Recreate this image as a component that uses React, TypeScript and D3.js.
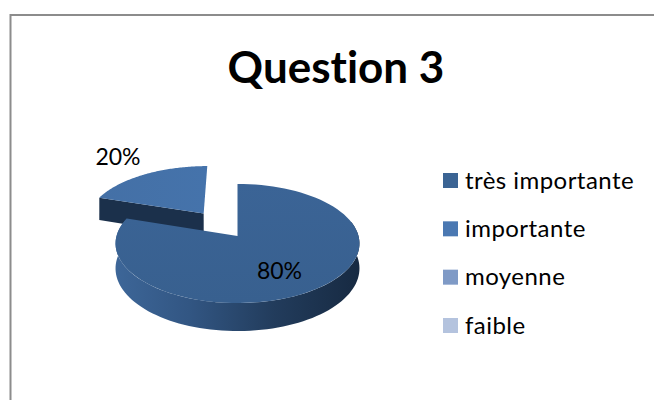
import React from "react";
import * as d3 from "d3";

const categories = ["très importante", "importante", "moyenne", "faible"];
const values = [80, 20, 0, 0];
const percentLabels = ["80%", "20%"];
const legendColors = ["#3b6494", "#4a78b2", "#7f9ac6", "#b4c3de"];
const title = "Question 3";

const W = 654, H = 400;
const cx = 237.5, cy = 236;
const rx = 121, ry = 58.6, persp = 0.126, depth = 24.5;
const explode = 0.5;

const pie = d3.pie<number>().sort(null).startAngle(0).endAngle(2 * Math.PI);
const arcs = pie(values);
const legendY = d3.scalePoint<string>().domain(categories).range([180.5, 325.5]);
const line = d3.line<[number, number]>().curve(d3.curveLinear);

function project(u: number, v: number, drop = 0): [number, number] {
  const s = 1 / (1 - persp * v);
  return [cx + rx * u * s, cy + ry * v * s + (drop ? depth * s : 0)];
}
function polar(a: number, r = 1, ou = 0, ov = 0) {
  return { u: ou + r * Math.sin(a), v: ov - r * Math.cos(a) };
}
function samples(a0: number, a1: number, n = 90) {
  return d3.range(n + 1).map((i) => a0 + ((a1 - a0) * i) / n);
}
function topPath(a0: number, a1: number, ou = 0, ov = 0) {
  const pts: [number, number][] = [project(ou, ov)];
  samples(a0, a1).forEach((a) => {
    const p = polar(a, 1, ou, ov);
    pts.push(project(p.u, p.v));
  });
  return line(pts) + "Z";
}
function sidePath(a0: number, a1: number, ou = 0, ov = 0) {
  const as = samples(a0, a1);
  const up = as.map((a) => { const p = polar(a, 1, ou, ov); return project(p.u, p.v); });
  const dn = as.slice().reverse().map((a) => { const p = polar(a, 1, ou, ov); return project(p.u, p.v, 1); });
  return line([...up, ...dn]) + "Z";
}

export default function App() {
  const main = arcs[0], small = arcs[1];
  const mid = (small.startAngle + small.endAngle) / 2;
  const ou = explode * Math.sin(mid), ov = -explode * Math.cos(mid);
  const tip = polar(small.startAngle, 1, ou, ov);
  const cut = line([
    project(ou, ov), project(tip.u, tip.v),
    project(tip.u, tip.v, 1), project(ou, ov, 1),
  ]) + "Z";
  return (
    <svg width={W} height={H} style={{ position: "absolute", left: 0, top: 0, background: "#fff", fontVariantLigatures: "none" }}
      fontFamily="Lato, 'Open Sans', sans-serif">
      <defs>
        <linearGradient id="side" x1="0" x2="1" y1="0" y2="0">
          <stop offset="0" stopColor="#3d6698" />
          <stop offset="0.3" stopColor="#325683" />
          <stop offset="0.65" stopColor="#223c5c" />
          <stop offset="1" stopColor="#172a42" />
        </linearGradient>
        <linearGradient id="top80" x1="0" x2="0" y1="0" y2="1">
          <stop offset="0" stopColor="#3b6496" />
          <stop offset="1" stopColor="#38608f" />
        </linearGradient>
        <linearGradient id="top20" x1="0" x2="1" y1="0" y2="0">
          <stop offset="0" stopColor="#4470a6" />
          <stop offset="1" stopColor="#4573ab" />
        </linearGradient>
      </defs>
      <path d={`M10.5 400V15H654`} fill="none" stroke="#8c8c8c" strokeWidth={2} />
      <text x={336} y={83} textAnchor="middle" fontSize={44} fontWeight={700} fill="#000">{title}</text>

      <path d={cut} fill="#1b304b" />
      <path d={topPath(small.startAngle, small.endAngle, ou, ov)} fill="url(#top20)" />

      <path d={sidePath(Math.PI * 0.42, main.endAngle)} fill="url(#side)" />
      <path d={topPath(main.startAngle, main.endAngle)} fill="url(#top80)" />

      <text x={279.5} y={279} textAnchor="middle" fontSize={23} fill="#000">{percentLabels[0]}</text>
      <text x={118} y={165} textAnchor="middle" fontSize={23} fill="#000">{percentLabels[1]}</text>

      {categories.map((c, i) => (
        <g key={c} transform={`translate(0,${legendY(c)})`}>
          <rect x={443} y={-7.5} width={15} height={15} fill={legendColors[i]} />
          <text x={465} y={8} fontSize={24} letterSpacing={0.45} fill="#000">{c}</text>
        </g>
      ))}
    </svg>
  );
}
